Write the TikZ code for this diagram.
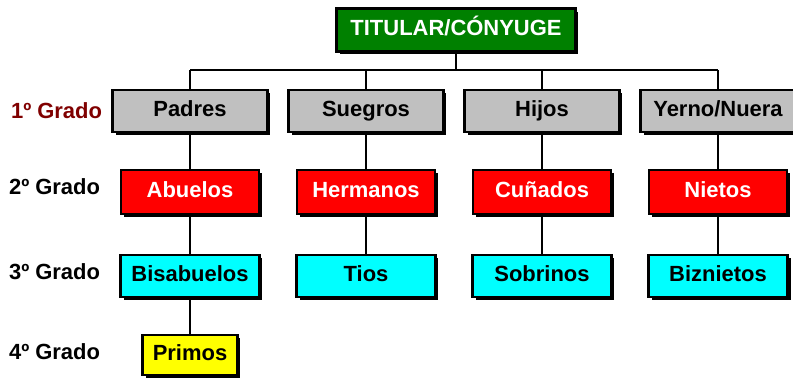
\documentclass[tikz,border=0pt]{standalone}
\usepackage{fontspec}
\setmainfont{Liberation Sans}
\usepackage{tikz}
\usetikzlibrary{positioning,shadows}

\definecolor{verde}{RGB}{0,128,0}
\definecolor{gris}{RGB}{192,192,192}
\definecolor{rojo}{RGB}{255,0,0}
\definecolor{celeste}{RGB}{0,255,255}
\definecolor{amarillo}{RGB}{255,255,0}
\definecolor{granate}{RGB}{128,0,0}

\begin{document}
\begin{tikzpicture}[x={(0.02cm,0)},y={(0,-0.02cm)},line width=1.2pt,
                    font=\fontsize{12.5}{14}\selectfont\bfseries]
  \tikzstyle{caja}=[draw=black,rectangle,inner sep=0pt,text height=9pt,text depth=2.5pt,
                    drop shadow={shadow xshift=0.06cm,shadow yshift=-0.06cm,opacity=1,fill=black}]
  \tikzstyle{titular}=[caja,fill=verde,text=white,minimum width=4.78cm,minimum height=0.86cm]
  \tikzstyle{primero}=[caja,fill=gris,minimum width=3.1cm,minimum height=0.84cm]
  \tikzstyle{segundo}=[caja,fill=rojo,text=white,minimum width=2.76cm,minimum height=0.88cm]
  \tikzstyle{tercero}=[caja,fill=celeste,minimum width=2.78cm,minimum height=0.84cm]
  \tikzstyle{cuarto}=[caja,fill=amarillo,minimum width=1.9cm,minimum height=0.8cm]
  \tikzstyle{grado}=[anchor=west,inner sep=0pt]

  \useasboundingbox (0,0) rectangle (793,379);

  % titular
  \node[titular] (tit) at (456,30) {TITULAR/CÓNYUGE};

  % 1er grado
  \node[primero] (padres)  at (190,111) {Padres};
  \node[primero] (suegros) at (366,111) {Suegros};
  \node[primero] (hijos)   at (542,111) {Hijos};
  \node[primero] (yerno)   at (718,111) {Yerno/Nuera};

  % 2do grado
  \node[segundo] (abuelos)   at (190,192) {Abuelos};
  \node[segundo] (hermanos)  at (366,192) {Hermanos};
  \node[segundo] (cunados)   at (542,192) {Cuñados};
  \node[segundo] (nietos)    at (718,192) {Nietos};

  % 3er grado
  \node[tercero] (bisabuelos) at (190,276) {Bisabuelos};
  \node[tercero] (tios)       at (366,276) {Tios};
  \node[tercero] (sobrinos)   at (542,276) {Sobrinos};
  \node[tercero] (biznietos)  at (718,276) {Biznietos};

  % 4to grado
  \node[cuarto] (primos) at (190,355) {Primos};

  % grados
  \node[grado,text=granate] (g1) at (10,111) {1º Grado};
  \node[grado] (g2) at (8,187) {2º Grado};
  \node[grado] (g3) at (8,272) {3º Grado};
  \node[grado] (g4) at (8,352) {4º Grado};

  % lineas
  \coordinate (barI) at (190,70);
  \coordinate (barD) at (718,70);
  \draw (barI) -- (barD);
  \draw (tit) -- (tit |- barI);
  \foreach \n in {padres,suegros,hijos,yerno}
    \draw (\n) -- (\n |- barI);
  \draw (padres) -- (abuelos) (abuelos) -- (bisabuelos) (bisabuelos) -- (primos);
  \draw (suegros) -- (hermanos) (hermanos) -- (tios);
  \draw (hijos) -- (cunados) (cunados) -- (sobrinos);
  \draw (yerno) -- (nietos) (nietos) -- (biznietos);
\end{tikzpicture}
\end{document}
